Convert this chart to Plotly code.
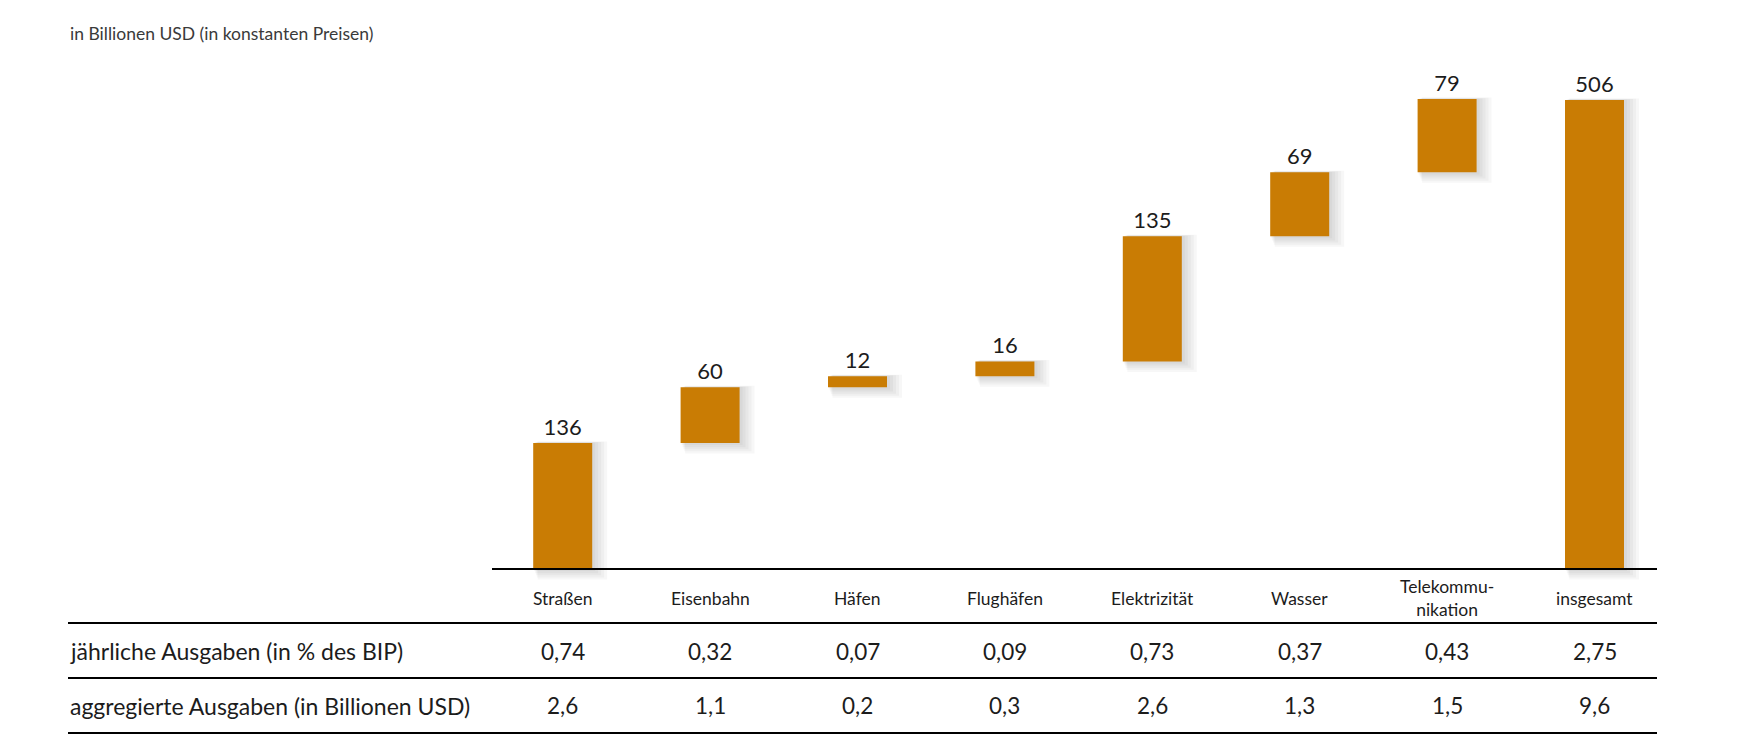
import numpy as np
import plotly.graph_objects as go

# ---------------- data ----------------
categories = ["Straßen", "Eisenbahn", "Häfen", "Flughäfen", "Elektrizität",
              "Wasser", "Telekommu-<br>nikation", "insgesamt"]
increments = [136, 60, 12, 16, 135, 69, 79]      # Billionen USD per sector
total = 506                                        # insgesamt
gdp_share = ["0,74", "0,32", "0,07", "0,09", "0,73", "0,37", "0,43", "2,75"]
aggregated = ["2,6", "1,1", "0,2", "0,3", "2,6", "1,3", "1,5", "9,6"]
row_labels = ["jährliche Ausgaben (in % des BIP)",
              "aggregierte Ausgaben (in Billionen USD)"]
title_text = "in Billionen USD (in konstanten Preisen)"

# ---------------- layout geometry (pixels) ----------------
W, H = 1737, 753
PLOT_L, PLOT_R = 492, 1657
PLOT_T, PLOT_B = 60, 584
ZERO_PX = 569
PX_PER_UNIT = 469 / 506
CAT0_PX, CAT_PITCH = 562.7, 147.4
BAR_W_PX = 59
TABLE_L = 68
LINE_Y = [623, 678, 733]
CAT_LABEL_Y = 598
ROW_Y = [651, 706]

x_range = [(PLOT_L - CAT0_PX) / CAT_PITCH, (PLOT_R - CAT0_PX) / CAT_PITCH]
y_range = [-(PLOT_B - ZERO_PX) / PX_PER_UNIT, (ZERO_PX - PLOT_T) / PX_PER_UNIT]


def px_x(px):
    return (px - PLOT_L) / (PLOT_R - PLOT_L)


def px_y(py):
    return (PLOT_B - py) / (PLOT_B - PLOT_T)


BAR_COLOR = "#C97C04"
TEXT_COLOR = "#1c1c1c"
FONT = "Lato"

# bar geometry from data
heights = np.array(increments + [total], dtype=float)
bases = np.concatenate([np.concatenate([[0], np.cumsum(increments)[:-1]]), [0]])
xs = list(range(len(categories)))
bw = BAR_W_PX / CAT_PITCH

fig = go.Figure()

# soft drop shadow (layered translucent rectangles)
for s in [3, 6, 9, 12, 15]:
    fig.add_trace(go.Bar(
        x=xs, y=heights + (0.7 * s + 0.1 * s) / PX_PER_UNIT,
        base=bases - 0.7 * s / PX_PER_UNIT,
        width=bw + 0.7 * s / CAT_PITCH,
        offset=-bw / 2 + 0.3 * s / CAT_PITCH,
        marker=dict(color="rgba(0,0,0,0.033)", line=dict(width=0)),
        hoverinfo="skip", showlegend=False,
    ))

fig.add_trace(go.Bar(
    x=xs, y=heights, base=bases, width=bw,
    marker=dict(color=BAR_COLOR, line=dict(width=0)),
    text=[str(v) for v in increments + [total]],
    textposition="outside",
    textfont=dict(family=FONT, size=22, color=TEXT_COLOR),
    cliponaxis=False, showlegend=False,
    hovertemplate="%{text}<extra></extra>",
))

shapes = []
# baseline of the chart
shapes.append(dict(type="line", xref="paper", yref="paper",
                   x0=px_x(PLOT_L), x1=px_x(PLOT_R),
                   y0=px_y(ZERO_PX), y1=px_y(ZERO_PX),
                   line=dict(color="#000000", width=2)))
# table rules
for ly in LINE_Y:
    shapes.append(dict(type="line", xref="paper", yref="paper",
                       x0=px_x(TABLE_L), x1=px_x(PLOT_R),
                       y0=px_y(ly), y1=px_y(ly),
                       line=dict(color="#000000", width=2)))

annotations = []
# title
annotations.append(dict(text=title_text, xref="paper", yref="paper",
                        x=px_x(68), y=px_y(33), xanchor="left", yanchor="middle",
                        showarrow=False,
                        font=dict(family=FONT, size=17.5, color="#3a3a3a")))
# category labels
for i, c in enumerate(categories):
    annotations.append(dict(text=c, xref="x", yref="paper",
                            x=i, y=px_y(CAT_LABEL_Y), xanchor="center", yanchor="middle",
                            showarrow=False,
                            font=dict(family=FONT, size=17.5, color=TEXT_COLOR)))
# table rows
for r, (label, vals) in enumerate(zip(row_labels, [gdp_share, aggregated])):
    annotations.append(dict(text=label, xref="paper", yref="paper",
                            x=px_x(68), y=px_y(ROW_Y[r]), xanchor="left", yanchor="middle",
                            showarrow=False,
                            font=dict(family=FONT, size=23, color=TEXT_COLOR)))
    for i, v in enumerate(vals):
        annotations.append(dict(text=v, xref="x", yref="paper",
                                x=i, y=px_y(ROW_Y[r]), xanchor="center", yanchor="middle",
                                showarrow=False,
                                font=dict(family=FONT, size=22.5, color=TEXT_COLOR)))

fig.update_layout(
    width=W, height=H,
    margin=dict(l=PLOT_L, r=W - PLOT_R, t=PLOT_T, b=H - PLOT_B, pad=0),
    paper_bgcolor="white", plot_bgcolor="white",
    barmode="overlay",
    xaxis=dict(range=x_range, showticklabels=False, showgrid=False,
               zeroline=False, showline=False, ticks="", fixedrange=True),
    yaxis=dict(range=y_range, showticklabels=False, showgrid=False,
               zeroline=False, showline=False, ticks="", fixedrange=True),
    shapes=shapes, annotations=annotations,
    font=dict(family=FONT),
    hovermode="closest",
)

fig.write_html("out.html", config={"displayModeBar": False})
